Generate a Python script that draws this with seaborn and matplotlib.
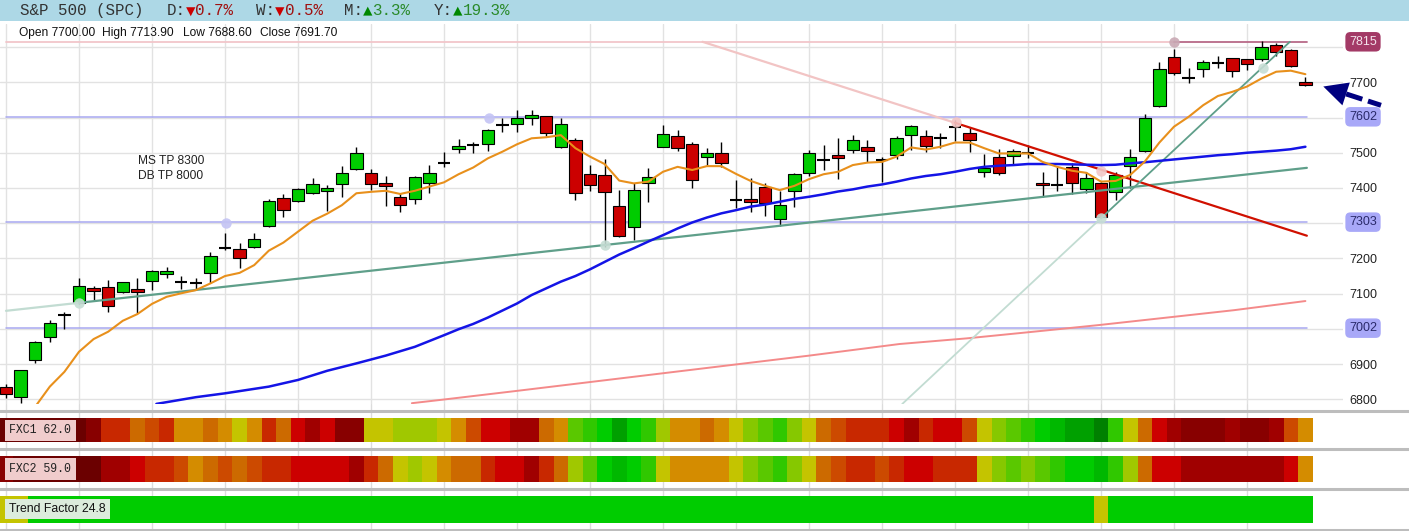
import numpy as np
import pandas as pd
import matplotlib
matplotlib.use("Agg")
import matplotlib.pyplot as plt
import seaborn as sns
from matplotlib.colors import ListedColormap
from matplotlib.patches import Rectangle, Polygon

# ---------------- data ----------------
opens = [6834, 6806, 6911, 6976, 7039, 7074, 7115, 7120, 7104, 7114,
         7137, 7155, 7134, 7131, 7160, 7230, 7226, 7233, 7293, 7372,
         7363, 7385, 7391, 7411, 7453, 7443, 7413, 7373, 7368, 7413,
         7472, 7512, 7523, 7524, 7579, 7583, 7598, 7603, 7517, 7536,
         7440, 7437, 7349, 7288, 7413, 7517, 7548, 7525, 7487, 7498,
         7366, 7368, 7402, 7311, 7392, 7442, 7480, 7494, 7508, 7517,
         7479, 7494, 7550, 7547, 7541, 7574, 7557, 7446, 7487, 7491,
         7498, 7415, 7409, 7460, 7396, 7415, 7389, 7461, 7506, 7633,
         7771, 7713, 7737, 7756, 7768, 7765, 7765, 7806, 7792, 7700]
highs = [6843, 6883, 6966, 7025, 7048, 7144, 7122, 7139, 7134, 7145,
         7168, 7176, 7150, 7143, 7217, 7273, 7243, 7271, 7368, 7382,
         7399, 7427, 7408, 7461, 7517, 7453, 7434, 7387, 7434, 7465,
         7503, 7538, 7530, 7567, 7598, 7620, 7621, 7603, 7598, 7541,
         7465, 7481, 7394, 7413, 7458, 7579, 7565, 7531, 7513, 7531,
         7423, 7427, 7415, 7392, 7442, 7508, 7522, 7541, 7550, 7536,
         7489, 7548, 7578, 7565, 7555, 7593, 7574, 7497, 7512, 7512,
         7522, 7446, 7460, 7470, 7446, 7418, 7446, 7512, 7609, 7758,
         7794, 7742, 7763, 7775, 7768, 7765, 7816, 7811, 7794, 7713.9]
lows = [6805, 6789, 6902, 6964, 7001, 7071, 7082, 7047, 7101, 7044,
        7110, 7144, 7112, 7112, 7131, 7224, 7172, 7230, 7290, 7318,
        7361, 7382, 7335, 7373, 7451, 7394, 7350, 7331, 7355, 7387,
        7460, 7498, 7498, 7506, 7560, 7560, 7579, 7548, 7514, 7366,
        7392, 7233, 7262, 7252, 7361, 7515, 7506, 7401, 7465, 7459,
        7342, 7333, 7321, 7292, 7347, 7434, 7451, 7425, 7498, 7475,
        7418, 7481, 7508, 7503, 7513, 7532, 7501, 7430, 7437, 7468,
        7484, 7373, 7392, 7383, 7387, 7314, 7366, 7399, 7503, 7629,
        7721, 7697, 7716, 7742, 7716, 7735, 7761, 7775, 7744, 7688.6]
closes = [6814, 6882, 6964, 7018, 7039, 7123, 7108, 7065, 7134, 7106,
          7163, 7165, 7134, 7131, 7207, 7230, 7200, 7256, 7362, 7337,
          7396, 7410, 7399, 7442, 7498, 7411, 7406, 7353, 7430, 7443,
          7472, 7518, 7523, 7564, 7579, 7598, 7608, 7555, 7583, 7385,
          7408, 7388, 7265, 7394, 7431, 7553, 7513, 7422, 7498, 7472,
          7366, 7359, 7356, 7351, 7439, 7498, 7480, 7486, 7536, 7505,
          7479, 7541, 7576, 7519, 7541, 7574, 7536, 7456, 7443, 7506,
          7498, 7408, 7409, 7413, 7427, 7317, 7437, 7487, 7600, 7737,
          7725, 7713, 7757, 7756, 7732, 7752, 7799, 7787, 7747, 7691.7]

ma_fast_x = list(range(2, 90))
ma_fast = [6779, 6836, 6878, 6935, 6971, 6992, 7023, 7042, 7071, 7091,
           7101, 7110, 7129, 7150, 7159, 7181, 7222, 7245, 7276, 7307,
           7327, 7351, 7385, 7389, 7392, 7383, 7392, 7404, 7416, 7439,
           7458, 7484, 7503, 7524, 7541, 7544, 7550, 7513, 7489, 7468,
           7421, 7413, 7418, 7446, 7460, 7451, 7462, 7462, 7440, 7420,
           7406, 7394, 7406, 7425, 7439, 7446, 7465, 7472, 7474, 7489,
           7515, 7509, 7517, 7529, 7529, 7513, 7498, 7498, 7498, 7474,
           7460, 7449, 7443, 7418, 7420, 7437, 7475, 7529, 7574, 7602,
           7635, 7661, 7673, 7688, 7711, 7730, 7733, 7723]

ma_mid_x = [10.3, 13, 15, 18, 20, 22, 24, 26, 28, 30, 31] + list(range(32, 90))
ma_mid = [6787, 6806, 6817, 6836, 6855, 6881, 6902, 6924, 6949, 6982, 6999,
          7014, 7032, 7052, 7072, 7096, 7115, 7134, 7150, 7169, 7190,
          7211, 7229, 7248, 7266, 7285, 7302, 7316, 7328, 7337, 7347,
          7353, 7361, 7369, 7375, 7382, 7390, 7396, 7404, 7410, 7418,
          7427, 7434, 7439, 7446, 7454, 7460, 7463, 7465, 7468, 7468,
          7468, 7467, 7466, 7465, 7466, 7470, 7473, 7477, 7481, 7485,
          7489, 7493, 7496, 7500, 7503, 7506, 7510, 7517]

ma_slow_x = [27.8, 29.7, 35, 40, 45, 50, 55, 61.2, 65.8, 70.4, 74.9, 79.5, 84.1, 89]
ma_slow = [6789, 6798, 6824, 6849, 6874, 6899, 6924, 6957, 6973, 6992, 7011, 7032, 7053, 7079]

levels = [7602, 7303, 7002]
level_top = 7815
grid_prices = [6800, 6900, 7000, 7100, 7200, 7300, 7400, 7500, 7600, 7700, 7800]
label_prices = [6800, 6900, 7100, 7200, 7400, 7500, 7700]

# trend line anchors (bar index, price)
teal_long = [(5, 7074), (41, 7238)]
red_down = [(65, 7585), (75, 7452)]
teal_steep = [(75, 7314), (86, 7740)]

# pivot circles (bar index, price, colour)
pivots = [(15.07, 7301, "#c4c4f4"), (33.1, 7600, "#c4c4f4"), (5, 7074, "#c6ddd4"),
          (41, 7238, "#c6ddd4"), (65.1, 7588, "#f2c4c4"), (75, 7449, "#f2c8c8"),
          (75, 7314, "#c6ddd4"), (86.1, 7740, "#c6ddd4"), (80, 7815, "#c9a9b4")]

# heat strips: palette index per bar
palette = ["#6b0000", "#880000", "#a00000", "#cc0000", "#c82800", "#cc4a00",
           "#cc6a00", "#d48c00", "#c4c400", "#a0c800", "#86c800", "#5ac800",
           "#30c800", "#00cc00", "#00b800", "#00a000", "#008000"]
fxc1 = [0, 0, 0, 0, 0, 0, 1, 4, 4, 6, 5, 4, 7, 7, 6, 7, 8, 7, 4, 6,
        3, 2, 3, 1, 1, 8, 8, 9, 9, 9, 8, 7, 5, 3, 3, 2, 2, 6, 7, 11,
        12, 13, 15, 13, 12, 9, 7, 7, 6, 7, 8, 10, 11, 12, 10, 8, 6, 5, 4, 4,
        4, 3, 2, 4, 3, 3, 5, 8, 10, 11, 12, 13, 14, 15, 15, 16, 12, 8, 6, 3,
        2, 1, 1, 1, 2, 1, 1, 2, 5, 7]
fxc2 = [1, 0, 0, 0, 0, 0, 0, 2, 2, 3, 4, 4, 5, 7, 6, 5, 6, 5, 4, 4,
        3, 3, 3, 3, 2, 4, 6, 8, 9, 8, 7, 6, 6, 4, 3, 3, 2, 4, 6, 9,
        11, 13, 14, 13, 12, 8, 7, 7, 7, 7, 8, 10, 11, 12, 10, 8, 6, 5, 4, 4,
        5, 4, 3, 3, 4, 4, 4, 8, 10, 11, 10, 11, 12, 13, 13, 14, 12, 9, 6, 3,
        3, 2, 2, 2, 2, 2, 2, 2, 3, 7]
trend = [8, 8, 13, 13, 13, 13, 13, 13, 13, 13, 13, 13, 13, 13, 13, 13, 13, 13, 13, 13,
         13, 13, 13, 13, 13, 13, 13, 13, 13, 13, 13, 13, 13, 13, 13, 13, 13, 13, 13, 13,
         13, 13, 13, 13, 13, 13, 13, 13, 13, 13, 13, 13, 13, 13, 13, 13, 13, 13, 13, 13,
         13, 13, 13, 13, 13, 13, 13, 13, 13, 13, 13, 13, 13, 13, 13, 8, 13, 13, 13, 13,
         13, 13, 13, 13, 13, 13, 13, 13, 13, 13]

# ---------------- figure ----------------
sns.set_theme(style="white")
plt.rcParams["font.family"] = ["Liberation Sans", "DejaVu Sans"]
MONO = ["Liberation Mono", "DejaVu Sans Mono"]

W, H = 1409, 531
fig = plt.figure(figsize=(W / 100, H / 100), dpi=100)
fig.patch.set_facecolor("white")


def fx(p):
    return p / W


def fy(p):
    return 1 - p / H


X0, DX = 6.0, 14.6
PR = 1343
XL = ((0 - X0) / DX, (PR - X0) / DX)
YL = (6786.7, 7865.5)

# background band
bg = fig.add_axes([0, 0, 1, 1], zorder=0)
bg.set_xlim(0, W)
bg.set_ylim(H, 0)
bg.axis("off")
bg.add_patch(Rectangle((0, 0), W, 20.7, fc="#add8e6", ec="none"))

# lower grid area (strips)
low = fig.add_axes([0, 0, fx(PR), fy(404)], zorder=1)
low.set_facecolor("none")
low.set_xlim(*XL)
low.set_ylim(0, 1)
for s in low.spines.values():
    s.set_visible(False)
low.set_xticks(range(0, 86, 5))
low.set_yticks([])
low.tick_params(length=0, labelbottom=False)
low.grid(True, axis="x", color="#dcdcdc", lw=1)

# price axes
ax = fig.add_axes([0, fy(404), fx(PR), fy(24) - fy(404)], zorder=2)
ax.set_facecolor("none")
ax.set_xlim(*XL)
ax.set_ylim(*YL)
for s in ax.spines.values():
    s.set_visible(False)
ax.set_xticks(range(0, 86, 5))
ax.set_yticks(grid_prices)
ax.set_yticklabels([str(t) if t in label_prices else "" for t in grid_prices])
ax.yaxis.tick_right()
ax.tick_params(axis="y", length=0, pad=4.3, labelsize=9, labelcolor="#222222")
ax.tick_params(axis="x", length=0, labelbottom=False)
ax.grid(True, color="#e2e2e2", lw=1)

o = np.array(opens, float)
h = np.array(highs, float)
l = np.array(lows, float)
c = np.array(closes, float)
idx = np.arange(len(o))

# levels
for lv in levels:
    ax.plot([0, 89.1], [lv, lv], color="#a8a8f0", lw=1.1, zorder=3)
ax.plot([0, 80], [level_top, level_top], color="#f2c6ca", lw=1.3, zorder=3)
ax.plot([80, 89.1], [level_top, level_top], color="#b86a88", lw=1.3, zorder=3)

# slow MA
sns.lineplot(x=ma_slow_x, y=ma_slow, ax=ax, color="#f48a8a", lw=1.4, zorder=3)

# candles
ax.vlines(idx, l, h, color="black", lw=1, zorder=4)
doji = o == c
body_col = np.where(c > o, "#00cc00", "#cc0000")
nd = ~doji
ax.bar(idx[nd], np.abs(c - o)[nd], bottom=np.minimum(o, c)[nd], width=0.86,
       color=body_col[nd], edgecolor="black", linewidth=0.8, zorder=5)
ax.hlines(o[doji], idx[doji] - 0.43, idx[doji] + 0.43, color="black", lw=1.5, zorder=5)


def line_pts(anchors, i_from, i_to):
    (i1, p1), (i2, p2) = anchors
    s = (p2 - p1) / (i2 - i1)
    return [i_from, i_to], [p1 + s * (i_from - i1), p1 + s * (i_to - i1)]


# trend lines
xs, ys = line_pts(teal_long, 0, 5)
ax.plot(xs, ys, color="#c2dcd2", lw=1.6, zorder=6)
xs, ys = line_pts(teal_long, 5, 89.1)
ax.plot(xs, ys, color="#5f9f8a", lw=1.6, zorder=6)

(r1, rp1), (r2, rp2) = red_down
rs = (rp2 - rp1) / (r2 - r1)
r_start = r1 + (level_top - rp1) / rs
xs, ys = line_pts(red_down, r_start, 65)
ax.plot(xs, ys, color="#f2c4c4", lw=1.6, zorder=6)
xs, ys = line_pts(red_down, 65, 89.1)
ax.plot(xs, ys, color="#d01000", lw=1.6, zorder=6)

(t1, tp1), (t2, tp2) = teal_steep
ts = (tp2 - tp1) / (t2 - t1)
t_start = t1 + (YL[0] - tp1) / ts
t_end = t1 + (level_top - tp1) / ts
xs, ys = line_pts(teal_steep, t_start, 75)
ax.plot(xs, ys, color="#c2dcd2", lw=1.3, zorder=6)
xs, ys = line_pts(teal_steep, 75, t_end)
ax.plot(xs, ys, color="#5f9f8a", lw=1.3, zorder=6)

# MAs
sns.lineplot(x=ma_mid_x, y=ma_mid, ax=ax, color="#1414e6", lw=1.8, zorder=7)
sns.lineplot(x=ma_fast_x, y=ma_fast, ax=ax, color="#e8901c", lw=1.5, zorder=7)
ax.set_xlabel("")
ax.set_ylabel("")
ax.set_xlim(*XL)
ax.set_ylim(*YL)

# pivots
for pi, pp, pc in pivots:
    ax.plot([pi], [pp], "o", ms=7.5, color=pc, mec="none", alpha=0.9, zorder=6)

# price label boxes
yt = ax.get_yaxis_transform()
lx = 1363 / PR
ax.text(lx, level_top, str(level_top), transform=yt, ha="center", va="center", fontsize=9,
        color="#f4e4ec", clip_on=False, zorder=9,
        bbox=dict(boxstyle="round,pad=0.3,rounding_size=0.4", fc="#a33a66", ec="none"))
for lv in levels:
    ax.text(lx, lv, str(lv), transform=yt, ha="center", va="center", fontsize=9,
            color="#2a2a6a", clip_on=False, zorder=9,
            bbox=dict(boxstyle="round,pad=0.3,rounding_size=0.4", fc="#a8a8f8", ec="none"))

# strips
cmap = ListedColormap(palette)
for top_px, bot_px, vals in [(418, 442, fxc1), (456, 482, fxc2), (496, 523, trend)]:
    sax = fig.add_axes([0, fy(bot_px), fx(PR), fy(top_px) - fy(bot_px)], zorder=2)
    sns.heatmap(np.array(vals)[None, :], ax=sax, cmap=cmap, vmin=-0.5,
                vmax=len(palette) - 0.5, cbar=False, xticklabels=False, yticklabels=False)
    sax.set_xlim(XL[0] + 0.5, XL[1] + 0.5)
    sax.tick_params(length=0)

# top overlay
top = fig.add_axes([0, 0, 1, 1], zorder=10)
top.set_xlim(0, W)
top.set_ylim(H, 0)
top.axis("off")
top.patch.set_alpha(0)

for yy in [411, 448.5, 488.5, 529.5]:
    top.plot([0, W], [yy, yy], color="#bdbdbd", lw=2.2)

# header
CW = 9.5
hdr = [(20, [("S&P 500 (SPC)", "#333333")]),
       (167, [("D:", "#333333"), ("\u25bc", "#cc0000"), ("0.7%", "#a01010")]),
       (256, [("W:", "#333333"), ("\u25bc", "#cc0000"), ("0.5%", "#a01010")]),
       (344, [("M:", "#333333"), ("\u25b2", "#008800"), ("3.3%", "#2a8a2a")]),
       (434, [("Y:", "#333333"), ("\u25b2", "#008800"), ("19.3%", "#2a8a2a")])]
for x0, parts in hdr:
    xx = x0
    for txt, col in parts:
        top.text(xx, 10.8, txt, family=MONO, fontsize=11.4, color=col, ha="left", va="center")
        xx += CW * len(txt)

for xx, txt in [(19, "Open 7700.00"), (102.3, "High 7713.90"), (183.3, "Low 7688.60"), (260, "Close 7691.70")]:
    top.text(xx, 33, txt, fontsize=8.65, color="#111111", ha="left", va="center")

top.text(138, 160.7, "MS TP 8300", fontsize=8.65, color="#222222", ha="left", va="center")
top.text(138, 175.7, "DB TP 8000", fontsize=8.65, color="#222222", ha="left", va="center")

# strip labels
top.text(9.3, 430.3, "FXC1 62.0", family=MONO, fontsize=8.3, color="#222222", ha="left", va="center",
         bbox=dict(boxstyle="square,pad=0.4", fc="#f0cccc", ec="none"))
top.text(9.3, 469, "FXC2 59.0", family=MONO, fontsize=8.3, color="#222222", ha="left", va="center",
         bbox=dict(boxstyle="square,pad=0.4", fc="#f0cccc", ec="none"))
top.text(9, 509, "Trend Factor 24.8", fontsize=8.8, color="#111111", ha="left", va="center",
         bbox=dict(boxstyle="square,pad=0.35", fc="#dcecdc", ec="none"))

# arrow
tip = np.array([1323.3, 86.5])
tail = np.array([1381.0, 105.3])
d = (tip - tail) / np.linalg.norm(tip - tail)
base = tip - 24 * d
perp = np.array([-d[1], d[0]])
top.add_patch(Polygon([tip, base + 12 * perp, base - 12 * perp], closed=True, fc="#000080", ec="none"))
top.plot([base[0], tail[0]], [base[1], tail[1]], color="#000080", lw=3.6,
         linestyle=(0, (3.4, 1.2)), solid_capstyle="butt", dash_capstyle="butt")

fig.savefig("out.png", dpi=100)
